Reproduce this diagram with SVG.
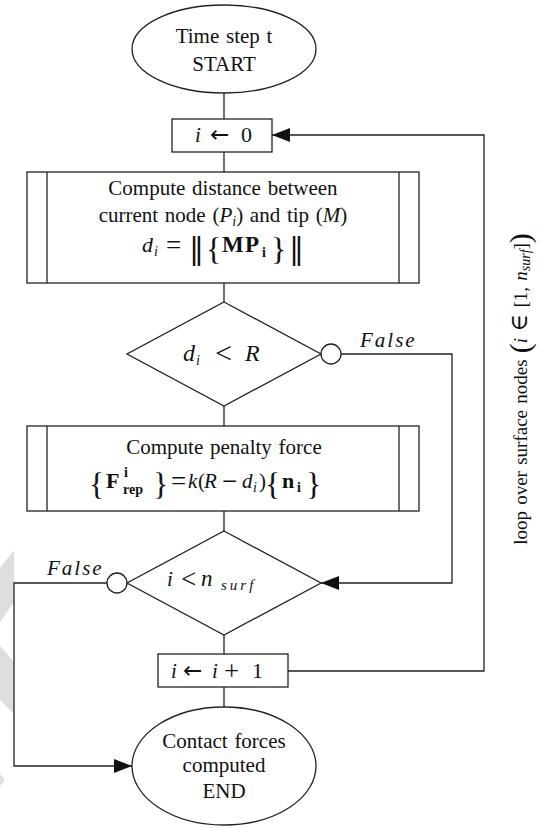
<svg xmlns="http://www.w3.org/2000/svg" width="553" height="828" viewBox="0 0 553 828">
<style>
  .shape { fill: #fff; stroke: #222; stroke-width: 1.3; }
  .line { fill: none; stroke: #222; stroke-width: 1.3; }
  text { font-family: "Liberation Serif", "DejaVu Serif", serif; fill: #111; font-size: 21px; word-spacing: 1.5px; }
  .c { text-anchor: middle; }
  .it { font-style: italic; }
  .b { font-weight: bold; }
  .sub { font-size: 14px; }
  .big { font-size: 32px; }
  .op { font-size: 27px; }
  .arw { font-family: "DejaVu Sans", sans-serif; font-size: 23px; }
  .bars { font-family: "DejaVu Serif", serif; font-size: 30px; }
  .lbl { font-style: italic; letter-spacing: 2px; }
  .wm { fill: #dedede; stroke: none; }
</style>
<defs>
  <marker id="arr" markerWidth="18" markerHeight="14" refX="18" refY="7" orient="auto" markerUnits="userSpaceOnUse">
    <path d="M0,0 L18,7 L0,14 Z" fill="#111"/>
  </marker>
</defs>
<rect width="553" height="828" fill="#fff"/>
<g id="watermark">
  <polygon class="wm" points="14,550 14,602 0,622 0,568"/>
  <polygon class="wm" points="0,646 14,662 14,714 0,700"/>
  <polygon class="wm" points="0,774 5,780 0,786"/>
</g>
<g id="connectors">
  <line class="line" x1="224" y1="93" x2="224" y2="119"/>
  <line class="line" x1="224" y1="152" x2="224" y2="172"/>
  <line class="line" x1="224" y1="283" x2="224" y2="302"/>
  <line class="line" x1="224" y1="406" x2="224" y2="426"/>
  <line class="line" x1="224" y1="511" x2="224" y2="531"/>
  <line class="line" x1="224" y1="635" x2="224" y2="654"/>
  <line class="line" x1="224" y1="687" x2="224" y2="707"/>
  <polyline class="line" points="341,354 452,354 452,583 321,583" marker-end="url(#arr)"/>
  <circle class="shape" cx="331" cy="354" r="10"/>
  <polyline class="line" points="107,583 14,583 14,766 132,766" marker-end="url(#arr)"/>
  <circle class="shape" cx="117" cy="583" r="10"/>
  <polyline class="line" points="288,671 484,671 484,135 272,135" marker-end="url(#arr)"/>
  <text class="lbl" x="360" y="347">False</text>
  <text class="lbl" x="47" y="575">False</text>
</g>
<g id="start">
  <ellipse class="shape" cx="224" cy="49" rx="92" ry="44"/>
  <text class="c" x="224" y="43">Time step t</text>
  <text class="c" x="224" y="71">START</text>
</g>
<g id="init">
  <rect class="shape" x="172" y="119" width="100" height="33"/>
  <text y="142"><tspan class="it" x="195">i</tspan><tspan class="arw" x="210" y="142">←</tspan><tspan x="241" y="142" style="font-size:22px">0</tspan></text>
</g>
<g id="distance">
  <rect class="shape" x="27" y="172" width="392" height="111"/>
  <line class="line" x1="47" y1="172" x2="47" y2="283"/>
  <line class="line" x1="399" y1="172" x2="399" y2="283"/>
  <text class="c" x="223" y="195">Compute distance between</text>
  <text class="c" x="223" y="222">current node (<tspan class="it">P</tspan><tspan class="it sub" dy="4">i</tspan><tspan dy="-4">) and tip (</tspan><tspan class="it">M</tspan>)</text>
  <text y="252"><tspan class="it" x="142" style="font-size:22px">d</tspan><tspan class="it sub" x="154" y="256">i</tspan><tspan class="op" x="166" y="254">=</tspan><tspan class="bars" x="189" y="259">‖</tspan><tspan class="big" x="206" y="260">{</tspan><tspan class="b" x="222" y="252" style="font-size:23px">M</tspan><tspan class="b" x="245" y="252" style="font-size:23px">P</tspan><tspan class="b sub" x="262" y="257">i</tspan><tspan class="big" x="271" y="260">}</tspan><tspan class="bars" x="289" y="259">‖</tspan></text>
</g>
<g id="test-distance">
  <polygon class="shape" points="224,302 321,354 224,406 127,354"/>
  <text y="361" style="font-size:24px"><tspan class="it" x="183">d</tspan><tspan class="it sub" x="196" y="365">i</tspan><tspan class="op" x="215" y="363" style="font-size:30px">&lt;</tspan><tspan class="it" x="245" y="361">R</tspan></text>
</g>
<g id="penalty">
  <rect class="shape" x="27" y="426" width="392" height="85"/>
  <line class="line" x1="47" y1="426" x2="47" y2="511"/>
  <line class="line" x1="399" y1="426" x2="399" y2="511"/>
  <text class="c" x="224" y="454">Compute penalty force</text>
  <text y="488"><tspan class="big" x="89" y="495">{</tspan><tspan class="b" x="106" y="488" style="font-size:22px">F</tspan><tspan class="b sub" x="124" y="477">i</tspan><tspan class="b sub" x="123" y="494">rep</tspan><tspan class="big" x="153" y="495">}</tspan><tspan class="op" x="171" y="490">=</tspan><tspan class="it" x="188" y="488">k</tspan><tspan x="198">(</tspan><tspan class="it" x="204">R</tspan><tspan class="op" x="222" y="490">−</tspan><tspan class="it" x="242" y="488">d</tspan><tspan class="it sub" x="253" y="492">i</tspan><tspan x="259" y="488">)</tspan><tspan class="big" x="265" y="495">{</tspan><tspan class="b" x="282" y="488" style="font-size:22px">n</tspan><tspan class="b sub" x="297" y="492">i</tspan><tspan class="big" x="306" y="495">}</tspan></text>
</g>
<g id="test-index">
  <polygon class="shape" points="224,531 321,583 224,635 127,583"/>
  <text y="586"><tspan class="it" x="167">i</tspan><tspan class="op" x="181" y="588">&lt;</tspan><tspan class="it" x="201" y="586" style="font-size:23px">n</tspan><tspan class="it" x="221" y="590" style="font-size:15px;letter-spacing:3px">surf</tspan></text>
</g>
<g id="increment">
  <rect class="shape" x="158" y="654" width="130" height="33"/>
  <text y="678"><tspan class="it" x="171">i</tspan><tspan class="arw" x="183" y="678">←</tspan><tspan class="it" x="212" y="678">i</tspan><tspan class="op" x="224" y="680">+</tspan><tspan x="252" y="678" style="font-size:22px">1</tspan></text>
</g>
<g id="end">
  <ellipse class="shape" cx="224" cy="766" rx="92" ry="59"/>
  <text class="c" x="224" y="748">Contact forces</text>
  <text class="c" x="224" y="772">computed</text>
  <text class="c" x="224" y="798">END</text>
</g>
<g id="loop-label">
  <text class="c" transform="translate(527,389) rotate(-90)" style="font-size:19px">loop over surface nodes <tspan style="font-size:30px" dy="3">(</tspan><tspan class="it" dy="-3">i</tspan> <tspan style="font-size:24px">∈</tspan> [1, <tspan class="it">n</tspan><tspan class="it sub" dy="3">surf</tspan><tspan dy="-3">]</tspan><tspan style="font-size:30px" dy="3">)</tspan></text>
</g>
</svg>
